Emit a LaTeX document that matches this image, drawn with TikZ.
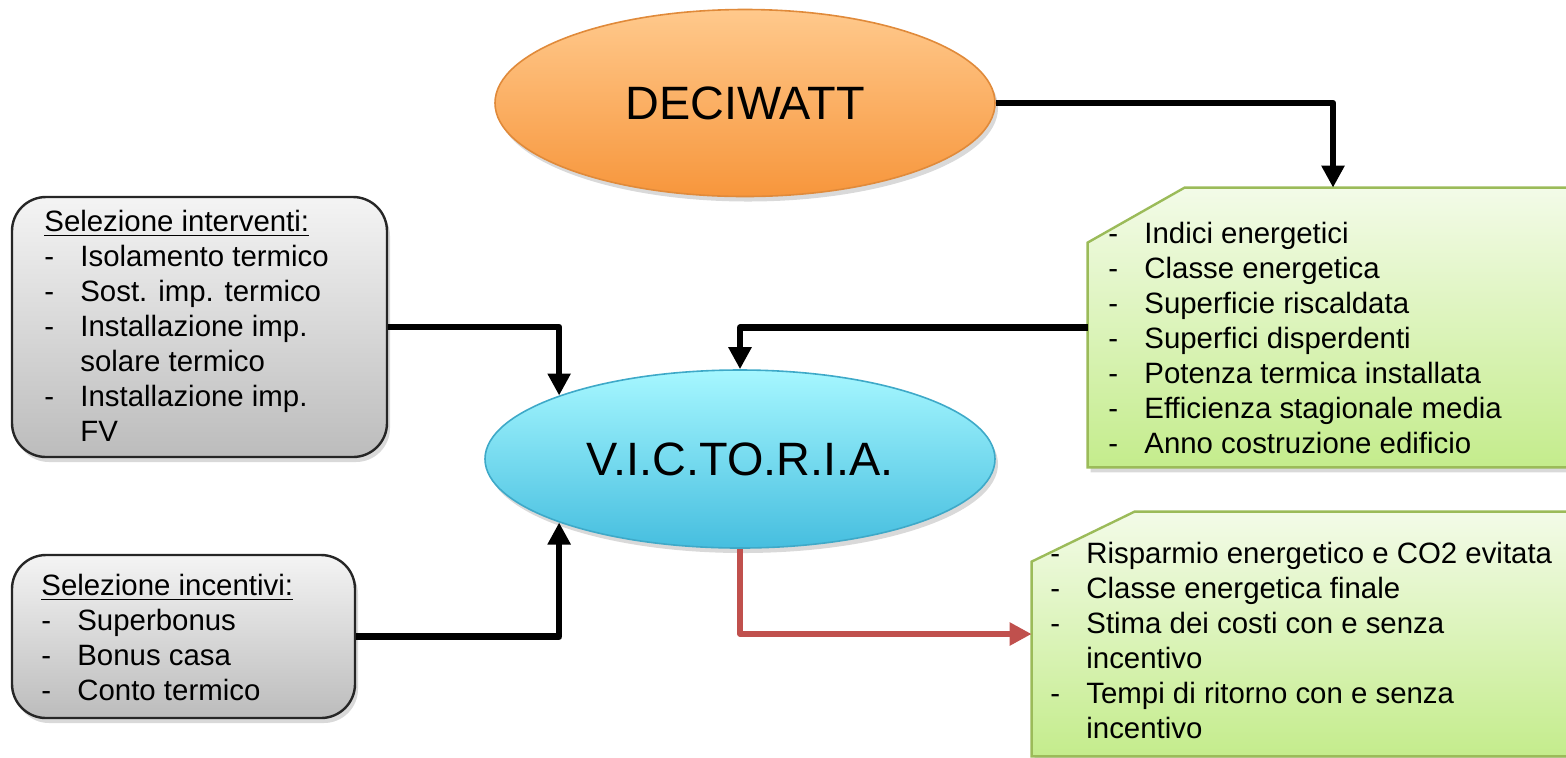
\documentclass[tikz,border=0pt]{standalone}
\usepackage{fontspec}
\setmainfont{Liberation Sans}
\usepackage{xcolor}
\usetikzlibrary{arrows.meta, shapes.geometric, shadows, positioning}

\definecolor{greylight}{HTML}{F4F4F4}
\definecolor{greydark}{HTML}{BCBCBC}
\definecolor{orangelight}{HTML}{FFC98C}
\definecolor{orangedark}{HTML}{F7963C}
\definecolor{orangeedge}{HTML}{E08A3A}
\definecolor{cyanlight}{HTML}{A6F7FF}
\definecolor{cyandark}{HTML}{46BEDF}
\definecolor{cyanedge}{HTML}{3EA9C8}
\definecolor{greenlight}{HTML}{F3FBE8}
\definecolor{greendark}{HTML}{C4EC8C}
\definecolor{greenedge}{HTML}{9BBB59}
\definecolor{redlink}{HTML}{C0504D}

\newcommand{\voce}{\strut\makebox[18pt][l]{-}}
\newcommand{\segue}{\strut\hspace*{18pt}}

\begin{document}
\begin{tikzpicture}[x=0.5pt,y=-0.5pt,->,>={Triangle[length=11pt,width=11pt]},
  blob/.style={ellipse,inner sep=0pt,line width=0.8pt,
    font=\fontsize{23.4}{28}\selectfont,
    drop shadow={opacity=0.3,shadow xshift=1.5pt,shadow yshift=-2.5pt}},
  panel/.style={rectangle,rounded corners=17pt,draw=black!85,line width=1.2pt,
    top color=greylight,bottom color=greydark,
    drop shadow={opacity=0.3,shadow xshift=1.5pt,shadow yshift=-2.5pt}},
  notebox/.style={rectangle,inner sep=0pt},
  greenfill/.style={-,draw=greenedge,line width=1.2pt,
    top color=greenlight,bottom color=greendark,
    drop shadow={opacity=0.3,shadow xshift=1.5pt,shadow yshift=-2.5pt}},
  listing/.style={anchor=north west,align=left,inner sep=0pt,
    font=\fontsize{14.7}{17.5}\selectfont},
  link/.style={line width=3.2pt,line join=round}]
  \useasboundingbox (0,0) rectangle (1566,757);
  \clip (0,0) rectangle (1566,757);

  \node[blob,top color=orangelight,bottom color=orangedark,draw=orangeedge,
    minimum width=250pt,minimum height=93.5pt] (deciwatt) at (745,103) {DECIWATT};
  \node[blob,top color=cyanlight,bottom color=cyandark,draw=cyanedge,
    minimum width=255pt,minimum height=89pt] (victoria) at (740,459) {V.I.C.TO.R.I.A.};
  \node[panel,minimum width=187.5pt,minimum height=130pt] (interventi) at (199.5,327) {};
  \node[panel,minimum width=171.5pt,minimum height=81.5pt] (incentivi) at (183.5,636.5) {};
  \node[notebox,minimum width=245pt,minimum height=139.5pt] (indici) at (1333,327.5) {};
  \node[notebox,minimum width=284pt,minimum height=122pt] (risultati) at (1316,634) {};

  % green notes with the cut corner
  \path[greenfill] ([yshift=-27.5pt]indici.north west) -- ([xshift=48.5pt]indici.north west)
    -- (indici.north east) -- (indici.south east) -- (indici.south west) -- cycle;
  \path[greenfill] ([yshift=-25pt]risultati.north west) -- ([xshift=51.5pt]risultati.north west)
    -- (risultati.north east) -- (risultati.south east) -- (risultati.south west) -- cycle;

  \node[listing] (interventi-txt) at (44,207) {\strut\underline{Selezione interventi:}\\
    \voce Isolamento termico\\ \voce Sost. imp. termico\\ \voce Installazione imp.\\
    \segue solare termico\\ \voce Installazione imp.\\ \segue FV};
  \node[listing] (incentivi-txt) at (41,571) {\strut\underline{Selezione incentivi:}\\
    \voce Superbonus\\ \voce Bonus casa\\ \voce Conto termico};
  \node[listing] (indici-txt) at (1108,219) {\voce Indici energetici\\ \voce Classe energetica\\
    \voce Superficie riscaldata\\ \voce Superfici disperdenti\\ \voce Potenza termica installata\\
    \voce Efficienza stagionale media\\ \voce Anno costruzione edificio};
  \node[listing] (risultati-txt) at (1050,539) {\voce Risparmio energetico e CO2 evitata\\
    \voce Classe energetica finale\\ \voce Stima dei costi con e senza\\ \segue incentivo\\
    \voce Tempi di ritorno con e senza\\ \segue incentivo};

  \draw[link] (deciwatt.east) -| (indici.north);
  \draw[link] (indici.west) -| (victoria.north);
  \draw[link] (interventi.east) -| (victoria.north west);
  \draw[link] (incentivi.east) -| (victoria.south west);
  \draw[link,draw=redlink,line width=2.8pt] (victoria.south) |- (risultati.west);
\end{tikzpicture}
\end{document}
